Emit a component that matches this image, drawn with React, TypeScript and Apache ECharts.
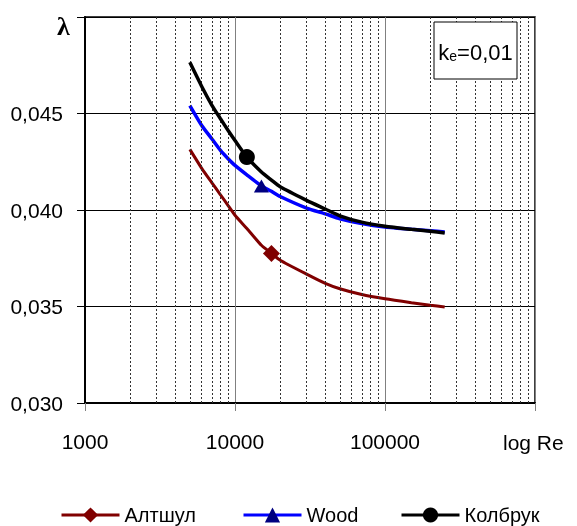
import React, { useEffect, useRef } from "react";
import * as echarts from "echarts";

const reValues = [5000, 6000, 7000, 8000, 9000, 10000, 12000, 15000, 17500, 20000, 30000, 40000, 50000, 70000, 100000, 150000, 200000, 250000];
const altshul = [0.04314, 0.04216, 0.04142, 0.04079, 0.04023, 0.03973, 0.03904, 0.03817, 0.03775, 0.0374, 0.03668, 0.0362, 0.03592, 0.03562, 0.0354, 0.0352, 0.03507, 0.03498];
const wood = [0.04541, 0.04438, 0.04369, 0.04309, 0.04266, 0.04231, 0.04182, 0.04125, 0.04097, 0.0407, 0.0401, 0.0398, 0.03955, 0.0393, 0.03912, 0.039, 0.03893, 0.03886];
const colebrook = [0.04765, 0.0464, 0.04544, 0.04473, 0.04412, 0.0436, 0.04274, 0.04197, 0.04155, 0.0412, 0.0405, 0.04005, 0.0397, 0.03937, 0.03916, 0.039, 0.0389, 0.03881];
const seriesNames = ["Алтшул", "Wood", "Колбрук"];
const markerRe = [17500, 15000, 12000];
const minorRe = [2000, 3000, 4000, 5000, 6000, 7000, 8000, 9000, 20000, 30000, 40000, 50000, 60000, 70000, 80000, 90000, 200000, 300000, 400000, 500000, 600000, 700000, 800000, 900000];
const yTicks = [0.03, 0.035, 0.04, 0.045, 0.05];

const FONT = "'Liberation Sans Narrow', 'Arial Narrow', 'Liberation Sans', Arial, sans-serif";

export default function App() {
  const ref = useRef<HTMLDivElement>(null);
  useEffect(() => {
    if (!ref.current) return;
    const chart = echarts.init(ref.current, undefined, { renderer: "svg" });
    const mk = (vals: number[]) => reValues.map((x, i) => [x, vals[i]]);
    const symSize = (markAt: number, size: number | number[]) => (_v: any, p: any) =>
      p && p.data && p.data[0] === markAt ? size : 0;
    const legendLefts = [60, 242, 400];
    chart.setOption({
      animation: false,
      grid: { left: 85, top: 17, width: 450, height: 386, show: true, borderColor: "#000", borderWidth: 1.5, backgroundColor: "transparent" },
      xAxis: {
        type: "log",
        logBase: 10,
        min: 1000,
        max: 1000000,
        axisLine: { show: true, lineStyle: { color: "#000", width: 2 } },
        axisTick: { show: true, length: 8, lineStyle: { color: "#808080", width: 1 } },
        axisLabel: {
          fontSize: 21,
          fontFamily: FONT,
          color: "#000",
          margin: 28,
          formatter: (v: number) => (v >= 999999 ? "" : String(Math.round(v))),
        },
        splitLine: { show: true, lineStyle: { color: "#808080", width: 1 } },
      },
      yAxis: {
        type: "value",
        min: yTicks[0],
        max: yTicks[yTicks.length - 1],
        interval: 0.005,
        axisLine: { show: true, lineStyle: { color: "#000", width: 2 } },
        axisTick: { show: true, length: 8, lineStyle: { color: "#000", width: 1 } },
        axisLabel: {
          fontSize: 21,
          fontFamily: FONT,
          color: "#000",
          margin: 22,
          formatter: (v: number) => (v >= 0.0499 ? "" : v.toFixed(3).replace(".", ",")),
        },
        splitLine: { show: true, lineStyle: { color: "#000", width: 1 } },
      },
      legend: seriesNames.map((n, i) => ({
        data: [n],
        left: legendLefts[i],
        top: 505,
        padding: 0,
        itemWidth: 58,
        itemHeight: 19,
        lineStyle: { width: 3 },
        textStyle: { fontSize: 20, fontFamily: FONT, color: "#000" },
      })),
      series: [
        {
          name: "grid",
          type: "line",
          data: [],
          z: 1,
          silent: true,
          markLine: {
            silent: true,
            symbol: ["none", "none"],
            label: { show: false },
            lineStyle: { type: [2, 2], color: "#333", width: 1 },
            data: minorRe.map((v) => ({ xAxis: v })),
          },
        },
        {
          name: seriesNames[0],
          type: "line",
          z: 3,
          smooth: 0.2,
          data: mk(altshul),
          symbol: "diamond",
          symbolSize: symSize(markerRe[0], 17),
          lineStyle: { color: "#800000", width: 3 },
          itemStyle: { color: "#800000" },
        },
        {
          name: seriesNames[1],
          type: "line",
          z: 4,
          smooth: 0.2,
          data: mk(wood),
          symbol: "triangle",
          symbolSize: symSize(markerRe[1], [15, 13]),
          lineStyle: { color: "#0000ff", width: 3.5 },
          itemStyle: { color: "#000080" },
        },
        {
          name: seriesNames[2],
          type: "line",
          z: 5,
          smooth: 0.2,
          data: mk(colebrook),
          symbol: "circle",
          symbolSize: symSize(markerRe[2], 16),
          lineStyle: { color: "#000", width: 3.5 },
          itemStyle: { color: "#000" },
        },
      ],
      graphic: [
        {
          type: "text",
          left: 57,
          top: 13,
          style: { text: "λ", fontSize: 26, fontWeight: "bold", fontFamily: "'Liberation Serif', serif", fill: "#000" },
        },
        {
          type: "text",
          x: 503,
          y: 442,
          style: { text: "log Re", fontSize: 21, fontFamily: FONT, fill: "#000", textVerticalAlign: "middle" },
        },
        {
          type: "rect",
          shape: { x: 434, y: 22, width: 83, height: 57 },
          style: { fill: "#fff", stroke: "#000", lineWidth: 1 },
          z: 100,
        },
        {
          type: "text",
          x: 475.5,
          y: 51,
          z: 101,
          style: {
            text: "{a|k}{b|e}{a|=0,01}",
            textAlign: "center",
            textVerticalAlign: "middle",
            rich: {
              a: { fontSize: 22, fontFamily: FONT, fill: "#000", verticalAlign: "bottom", lineHeight: 24 },
              b: { fontSize: 14, fontFamily: FONT, fill: "#000", verticalAlign: "bottom", lineHeight: 18 },
            },
          },
        },
      ],
    });
    return () => chart.dispose();
  }, []);
  return <div ref={ref} style={{ position: "fixed", left: 0, top: 0, width: 577, height: 526 }} />;
}
